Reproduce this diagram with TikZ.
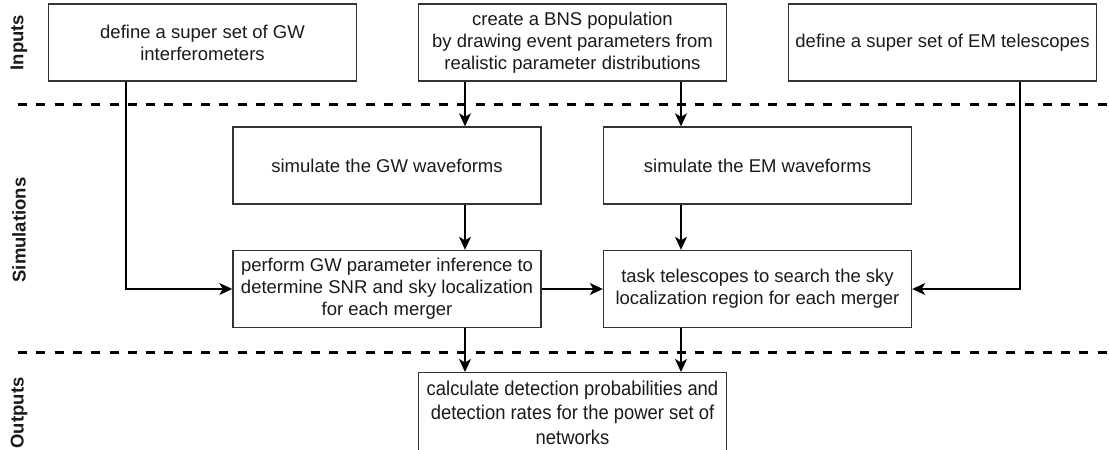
\documentclass[tikz,border=0pt]{standalone}
\usepackage{fontspec}
\setmainfont{Liberation Sans}
\newfontfamily\narrowsans[FakeStretch=0.92]{Liberation Sans}
\usetikzlibrary{arrows.meta}
\definecolor{boxgray}{HTML}{333333}
\definecolor{textblack}{HTML}{1A1A1A}
\begin{document}
\begin{tikzpicture}[x=1pt,y=-1pt,
  stepbox/.style={draw=boxgray, line width=1.4pt, minimum width=308pt,
    minimum height=77pt, inner sep=0pt, align=center, text=textblack,
    font=\fontsize{18.5}{22}\selectfont},
  outbox/.style={stepbox, minimum height=80pt,
    font=\narrowsans\fontsize{20}{24.5}\selectfont},
  flow/.style={line width=1.4pt, draw=black,
    -{Stealth[length=13pt,width=12pt,inset=3.5pt]}},
  divider/.style={line width=3pt, dash pattern=on 9pt off 9.3pt},
  stage/.style={rotate=90, font=\bfseries\fontsize{18.5}{22}\selectfont, text=textblack}]

\useasboundingbox (0,0) rectangle (1109,450);
\clip (0,0) rectangle (1109,450);

% stage labels
\node[stage] (lin)  at (19,42.5) {Inputs};
\node[stage] (lsim) at (19,230) {Simulations};
\node[stage] (lout) at (19,413) {Outputs};

% stage dividers
\coordinate (d1a) at (18,104);
\coordinate (d1b) at (1109,104);
\coordinate (d2a) at (18,352);
\coordinate (d2b) at (1109,352);
\draw[divider] (d1a) -- (d1b);
\draw[divider] (d2a) -- (d2b);

% inputs
\node[stepbox] (gwset) at (202.5,42.5) {define a super set of GW\\interferometers};
\node[stepbox] (bns) at (572.5,42.5) {create a BNS population\\by drawing event parameters from\\realistic parameter distributions};
\node[stepbox] (emset) at (942.5,42.5) {define a super set of EM telescopes};

% simulations
\node[stepbox] (gwwave) at (387,165.5) {simulate the GW waveforms};
\node[stepbox] (emwave) at (757.5,165.5) {simulate the EM waveforms};
\node[stepbox] (infer) at (387,289) {perform GW parameter inference to\\determine SNR and sky localization\\for each merger};
\node[stepbox] (task) at (757.5,289) {task telescopes to search the sky\\localization region for each merger};

% outputs (its lower edge lies just past the page)
\node[outbox, anchor=north] (rates) at (572.5,372) {calculate detection probabilities and\\detection rates for the power set of\\networks};

% connector columns
\coordinate (gwcol) at (465,0);
\coordinate (emcol) at (681,0);
\coordinate (ifocol) at (126,0);
\coordinate (telcol) at (1020,0);

\draw[flow] (bns.south -| gwcol) -- (gwwave.north -| gwcol);
\draw[flow] (bns.south -| emcol) -- (emwave.north -| emcol);
\draw[flow] (gwwave.south -| gwcol) -- (infer.north -| gwcol);
\draw[flow] (emwave.south -| emcol) -- (task.north -| emcol);
\draw[flow] (gwset.south -| ifocol) |- (infer.west);
\draw[flow] (emset.south -| telcol) |- (task.east);
\draw[flow] (infer.east) -- (task.west);
\draw[flow] (infer.south -| gwcol) -- (rates.north -| gwcol);
\draw[flow] (task.south -| emcol) -- (rates.north -| emcol);
\end{tikzpicture}
\end{document}
